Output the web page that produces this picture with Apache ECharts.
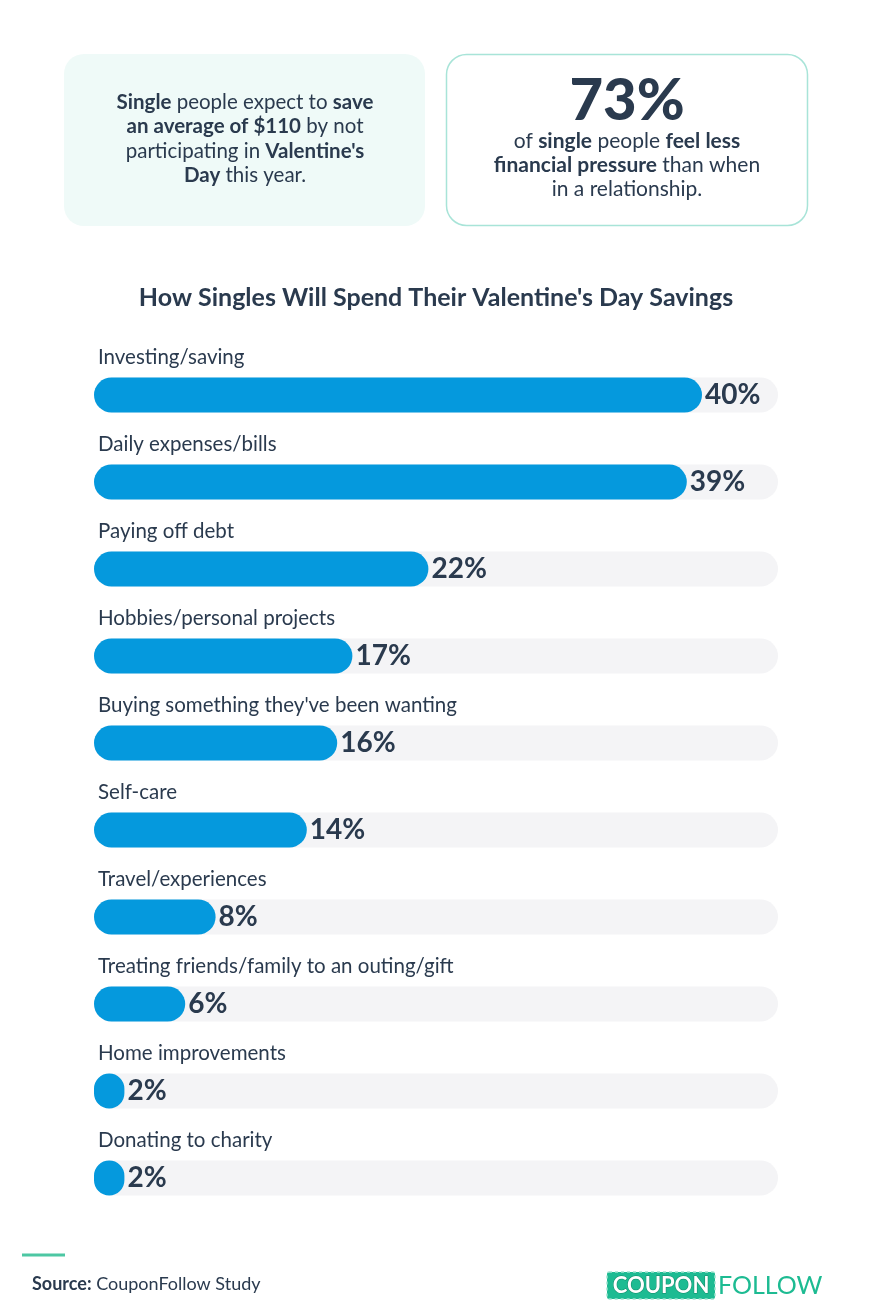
<!DOCTYPE html>
<html>
<head>
<meta charset="utf-8">
<script src="https://cdn.jsdelivr.net/npm/echarts@6/dist/echarts.min.js"></script>
<style>
  html, body { margin: 0; padding: 0; background: #ffffff; }
  #chart { width: 872px; height: 1316px; }
</style>
</head>
<body>
<div id="chart"></div>
<script>
// data
const categories = [
    'Investing/saving',
    'Daily expenses/bills',
    'Paying off debt',
    'Hobbies/personal projects',
    "Buying something they've been wanting",
    'Self-care',
    'Travel/experiences',
    'Treating friends/family to an outing/gift',
    'Home improvements',
    'Donating to charity'
];
const shares = [40, 39, 22, 17, 16, 14, 8, 6, 2, 2];

const chartTitle = "How Singles Will Spend Their Valentine's Day Savings";
const statBig = '73%';
const sourceName = 'CouponFollow Study';

const navy = '#2a3a4e';
const mint = '#1dbb92';
const fontFamily = 'Lato, "Open Sans", sans-serif';

const chart = echarts.init(document.getElementById('chart'));

const option = {
    backgroundColor: '#ffffff',
    textStyle: { fontFamily: fontFamily },
    title: {
        text: chartTitle,
        left: 'center',
        top: 280,
        textStyle: { color: navy, fontSize: 25, fontWeight: 'bold', fontFamily: fontFamily }
    },
    grid: { left: 94, right: 94, top: 351.5, bottom: 94.5 },
    xAxis: {
        type: 'value',
        min: 0,
        max: 45,
        show: false
    },
    yAxis: {
        type: 'category',
        data: categories,
        inverse: true,
        axisLine: { show: false },
        axisTick: { show: false },
        splitLine: { show: false },
        axisLabel: {
            inside: true,
            align: 'left',
            verticalAlign: 'bottom',
            margin: 4,
            padding: [0, 0, 27, 0],
            lineHeight: 22,
            color: navy,
            fontSize: 20.5,
            fontFamily: fontFamily
        }
    },
    series: [{
        type: 'bar',
        data: shares,
        barWidth: 35,
        itemStyle: { color: '#0599dd', borderRadius: 17.5 },
        showBackground: true,
        backgroundStyle: { color: '#f4f4f6', borderRadius: 17.5 },
        label: {
            show: true,
            position: 'right',
            distance: 3,
            formatter: '{c}%',
            color: navy,
            fontSize: 28,
            fontWeight: 'bold',
            fontFamily: fontFamily
        },
        silent: true
    }],
    graphic: [
        // left info box
        {
            type: 'rect',
            shape: { x: 64, y: 54, width: 361, height: 172, r: 20 },
            style: { fill: '#effaf8' }
        },
        {
            type: 'text',
            x: 245, y: 139,
            style: {
                text: "{b|Single} people expect to {b|save}\n{b|an average of $110} by not\nparticipating in {b|Valentine's}\n{b|Day} this year.",
                align: 'center',
                verticalAlign: 'middle',
                fill: navy,
                fontSize: 20.5,
                lineHeight: 24.5,
                fontFamily: fontFamily,
                rich: {
                    b: { fontWeight: 'bold', fontSize: 20.5, lineHeight: 24.5, fill: navy, fontFamily: fontFamily }
                }
            }
        },
        // right info box
        {
            type: 'rect',
            shape: { x: 446.5, y: 54.5, width: 361, height: 171, r: 20 },
            style: { fill: '#ffffff', stroke: '#a8e4d8', lineWidth: 1.5 }
        },
        {
            type: 'text',
            x: 627, y: 101,
            style: {
                text: statBig,
                align: 'center',
                verticalAlign: 'middle',
                fill: navy,
                fontSize: 58,
                fontWeight: 900,
                fontFamily: fontFamily
            }
        },
        {
            type: 'text',
            x: 627, y: 165,
            style: {
                text: 'of {b|single} people {b|feel less}\n{b|financial pressure} than when\nin a relationship.',
                align: 'center',
                verticalAlign: 'middle',
                fill: navy,
                fontSize: 21,
                lineHeight: 24,
                fontFamily: fontFamily,
                rich: {
                    b: { fontWeight: 'bold', fontSize: 21, lineHeight: 24, fill: navy, fontFamily: fontFamily }
                }
            }
        },
        // footer
        {
            type: 'line',
            shape: { x1: 22, y1: 1255, x2: 65, y2: 1255 },
            style: { stroke: '#4dc7a3', lineWidth: 3 }
        },
        {
            type: 'text',
            x: 32, y: 1284,
            style: {
                text: '{b|Source:} ' + sourceName,
                verticalAlign: 'middle',
                fill: navy,
                fontSize: 18,
                fontFamily: fontFamily,
                rich: { b: { fontWeight: 'bold', fontSize: 18, fill: navy, fontFamily: fontFamily } }
            }
        },
        {
            type: 'rect',
            shape: { x: 607, y: 1272, width: 108, height: 27, r: 2 },
            style: { fill: mint, stroke: '#9fe3cf', lineWidth: 1.5, lineDash: [3, 3] }
        },
        {
            type: 'text',
            x: 661, y: 1286,
            style: {
                text: 'COUPON',
                align: 'center',
                verticalAlign: 'middle',
                fill: '#ffffff',
                stroke: '#128866',
                lineWidth: 1,
                fontSize: 22,
                fontWeight: 'bold',
                fontFamily: fontFamily
            }
        },
        {
            type: 'text',
            x: 718, y: 1286,
            style: {
                text: 'FOLLOW',
                verticalAlign: 'middle',
                fill: mint,
                fontSize: 25,
                fontFamily: fontFamily
            }
        }
    ]
};

chart.setOption(option);
window.addEventListener('resize', function () { chart.resize(); });
</script>
</body>
</html>
